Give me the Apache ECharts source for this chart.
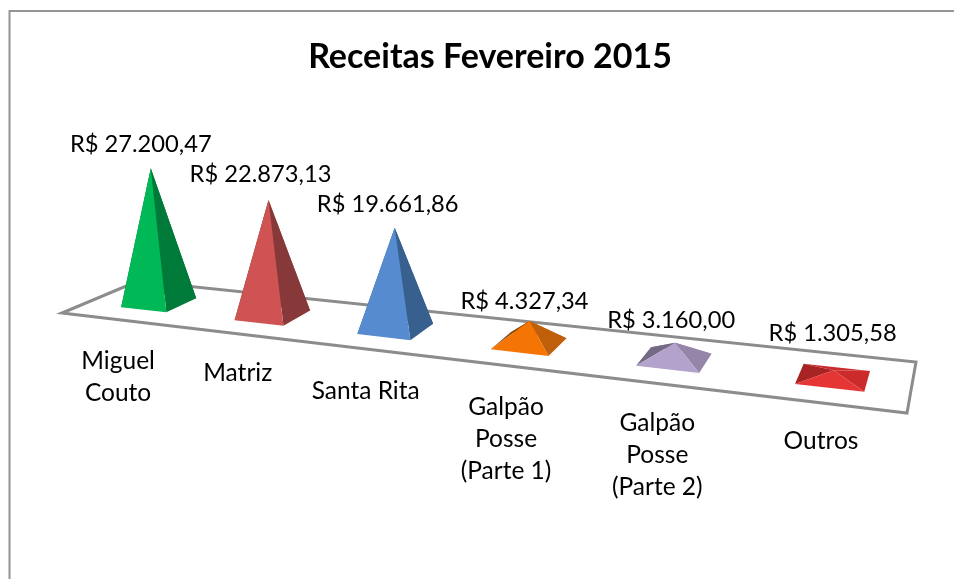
<!DOCTYPE html>
<html lang="pt-BR">
<head>
    <meta charset="UTF-8">
    <title>Receitas Fevereiro 2015</title>
    <script src="https://cdn.jsdelivr.net/npm/echarts/dist/echarts.min.js"></script>
    <style>
        html, body { margin: 0; padding: 0; background: #fff; }
        #main { width: 954px; height: 579px; }
    </style>
</head>
<body>
<div id="main"></div>
<script>
    // dados
    const categories = ['Miguel\nCouto', 'Matriz', 'Santa Rita', 'Galpão\nPosse\n(Parte 1)', 'Galpão\nPosse\n(Parte 2)', 'Outros'];
    const values = [27200.47, 22873.13, 19661.86, 4327.34, 3160.00, 1305.58];
    const valueLabels = ['R$ 27.200,47', 'R$ 22.873,13', 'R$ 19.661,86', 'R$ 4.327,34', 'R$ 3.160,00', 'R$ 1.305,58'];

    // cores das faces
    const frontColors = ['#00b855', '#cf5353', '#568bd0', '#f47404', '#b3a2cb', '#e63535'];
    const sideColors = ['#007a38', '#873939', '#38608f', '#bf5f09', '#9585a8', '#cc2b2b'];
    const leftColors = ['#006a30', '#6f2f2f', '#2f5078', '#7f4a10', '#756a86', '#a82323'];

    // ajustes dos rótulos, em pixels
    const valueLabelShift = [[-10, -24], [-8, -26], [-7, -24], [-5, -20], [-4, -22], [-1, -37]];
    const categoryLabelShift = [[-41, 74], [-35, 58], [-30, 62], [-23, 95], [-17, 95], [-12, 64]];

    // cantos do piso: frente-esq, frente-dir, fundo-dir, fundo-esq
    const floor = [[62, 313], [907, 413], [916, 362], [138, 281]];
    const gridLeft = 62, gridWidth = 845;
    const font = 'Lato, "Open Sans", sans-serif';

    // perspectiva: quadrado unitario -> quadrilatero do piso
    const persp = (function () {
        const [p0, p1, p2, p3] = floor;
        const sx = p0[0] - p1[0] + p2[0] - p3[0], sy = p0[1] - p1[1] + p2[1] - p3[1];
        const dx1 = p1[0] - p2[0], dx2 = p3[0] - p2[0], dy1 = p1[1] - p2[1], dy2 = p3[1] - p2[1];
        const det = dx1 * dy2 - dx2 * dy1;
        const g = (sx * dy2 - dx2 * sy) / det, h = (dx1 * sy - sx * dy1) / det;
        const a = p1[0] - p0[0] + g * p1[0], b = p3[0] - p0[0] + h * p3[0];
        const d = p1[1] - p0[1] + g * p1[1], e = p3[1] - p0[1] + h * p3[1];
        return function (u, v) {
            const w = g * u + h * v + 1;
            return { x: (a * u + b * v + p0[0]) / w, y: (d * u + e * v + p0[1]) / w, w: w };
        };
    })();

    function pt(p) { return [p.x, p.y]; }

    function face(points, color) {
        return { type: 'polygon', shape: { points: points }, style: { fill: color }, silent: true };
    }

    function renderPyramid(params, api) {
        const i = api.value(0);
        const value = api.value(1);
        const u = (api.coord([i, 0])[0] - gridLeft) / gridWidth + 0.006;
        const du = 0.034, dv = 0.21;

        const center = persp(u, 0.5);
        const fl = pt(persp(u - du, 0.5 - dv));
        const fr = pt(persp(u + du, 0.5 - dv));
        const br = pt(persp(u + du, 0.5 + dv));
        const bl = pt(persp(u - du, 0.5 + dv));

        // altura vem do eixo y, com leve correção de perspectiva
        const h = api.size([0, value])[1] / Math.sqrt(center.w);
        const apex = [center.x + h * (center.x - 440) * 0.00022, center.y - h];

        const vs = valueLabelShift[i], cs = categoryLabelShift[i];
        return {
            type: 'group',
            children: [
                face([bl, br, apex], sideColors[i]),
                face([bl, fl, apex], leftColors[i]),
                face([fr, br, apex], sideColors[i]),
                face([fl, fr, apex], frontColors[i]),
                {
                    type: 'text', silent: true,
                    style: {
                        text: valueLabels[i], x: apex[0] + vs[0], y: apex[1] + vs[1],
                        align: 'center', verticalAlign: 'middle',
                        font: '23.7px ' + font, fill: '#000'
                    }
                },
                {
                    type: 'text', silent: true,
                    style: {
                        text: categories[i], x: center.x + cs[0], y: center.y + cs[1],
                        align: 'center', verticalAlign: 'middle',
                        font: '24.5px ' + font, lineHeight: 32, fill: '#000'
                    }
                }
            ]
        };
    }

    function renderFloor() {
        return {
            type: 'polygon',
            shape: { points: floor },
            style: { fill: '#fff', stroke: '#8c8c8c', lineWidth: 3 },
            silent: true
        };
    }

    const chart = echarts.init(document.getElementById('main'));

    chart.setOption({
        animation: false,
        backgroundColor: '#fff',
        title: {
            text: 'Receitas Fevereiro 2015',
            left: 485, top: 35, textAlign: 'center',
            textStyle: { fontFamily: font, fontWeight: 'bold', fontSize: 34, color: '#000' }
        },
        grid: { left: gridLeft, width: gridWidth, top: 100, height: 150 },
        xAxis: { type: 'category', data: categories, show: false },
        yAxis: { type: 'value', min: 0, max: 30000, show: false },
        graphic: [{
            type: 'polyline',
            shape: { points: [[9.5, 579], [9.5, 11], [954, 11]] },
            style: { stroke: '#949494', lineWidth: 2, fill: null },
            silent: true
        }],
        series: [
            { type: 'custom', renderItem: renderFloor, data: [[0, 0]], z: 1, clip: false, silent: true },
            {
                type: 'custom',
                renderItem: renderPyramid,
                data: values.map((v, i) => [i, v]),
                encode: { x: 0, y: 1 },
                z: 2, clip: false, silent: true
            }
        ]
    });
</script>
</body>
</html>
